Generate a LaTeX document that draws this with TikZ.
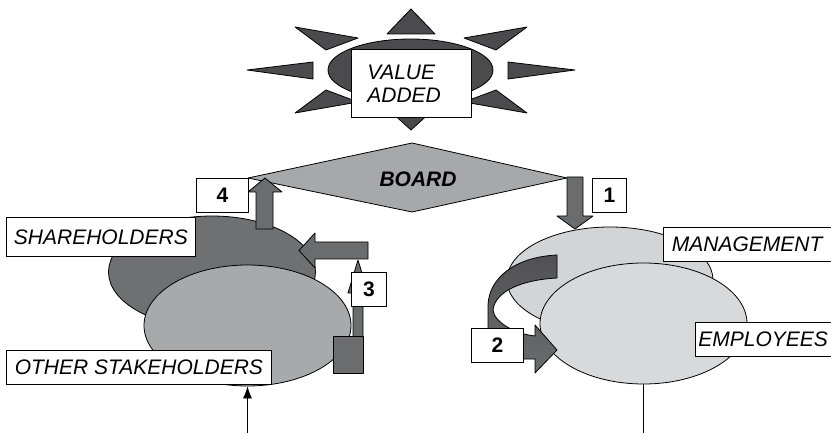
\documentclass[tikz,border=0pt]{standalone}
\usepackage{fontspec}
\setmainfont{Liberation Sans}
\usetikzlibrary{shapes.geometric,arrows.meta}
\definecolor{sungray}{HTML}{4B4B4D}
\definecolor{arrgray}{HTML}{6B6C6E}
\definecolor{arrdark}{HTML}{515153}
\definecolor{shgray}{HTML}{6F7072}
\definecolor{osgray}{HTML}{A8A9AB}
\definecolor{bdgray}{HTML}{A7A8AA}
\definecolor{mggray}{HTML}{D3D4D6}
\definecolor{emgray}{HTML}{D8D9DB}
\tikzset{
  outl/.style={draw=black, line width=0.8pt, line join=round},
  ray/.style={outl, fill=sungray},
  blockarrow/.style={outl, fill=arrgray},
  oval/.style={ellipse, outl, inner sep=0pt},
  lbl/.style={draw=black, fill=white, line width=0.8pt, inner sep=0pt,
    font=\fontsize{21}{23}\selectfont\itshape},
  numbox/.style={draw=black, fill=white, line width=0.8pt, inner sep=0pt,
    font=\fontsize{21}{23}\selectfont\bfseries, minimum height=34pt},
}
\begin{document}
\begin{tikzpicture}[x=1pt,y=-1pt]
\useasboundingbox (0,0) rectangle (831,433);

% ---- sun ----
\draw[ray] (387,34) -- (435,34) -- (411,9) -- cycle;
\draw[ray] (389,110) -- (433,110) -- (411,130) -- cycle;
\draw[ray] (313,62) -- (313,79) -- (247,70) -- cycle;
\draw[ray] (508,62) -- (508,79) -- (575,70) -- cycle;
\draw[ray] (295,27) -- (358,38) -- (326,50) -- cycle;
\draw[ray] (295,113) -- (358,102) -- (326,90) -- cycle;
\draw[ray] (527,27) -- (464,38) -- (496,50) -- cycle;
\draw[ray] (527,113) -- (464,102) -- (496,90) -- cycle;
\node[oval, fill=sungray, minimum width=165pt, minimum height=62pt] (sun) at (410.5,70) {};
\node[lbl, anchor=north west, minimum height=68pt, text width=88pt, inner xsep=16pt, align=left] (value) at (351,49) {VALUE\\ADDED};

% ---- board ----
\draw[outl, fill=bdgray] (248,178) -- (412,143) -- (567,178) -- (412,212) -- cycle;
\node[font=\fontsize{21}{23}\selectfont\bfseries\itshape] (board) at (418,179) {BOARD};

% ---- left group ----
\node[oval, fill=shgray, minimum width=207pt, minimum height=112pt] (share) at (212,272) {};
\draw[blockarrow] (368,242) -- (315,242) -- (315,233) -- (299,250.5) -- (315,268) -- (315,259) -- (368,259) -- cycle;
\node[oval, fill=osgray, minimum width=207pt, minimum height=121pt] (other) at (247.5,325.5) {};
\draw[blockarrow] (353,373) -- (353,293) -- (348,293) -- (358,260) -- (368,293) -- (363,293) -- (363,373) -- cycle;
\draw[blockarrow] (333,336) rectangle (363,373);
\node[numbox, anchor=north west, minimum width=35pt] (n3) at (351,272) {3};
\draw[blockarrow] (256,229) -- (256,192) -- (248,192) -- (265,178) -- (282,192) -- (273,192) -- (273,229) -- cycle;
\node[numbox, anchor=north west, minimum width=52pt] (n4) at (196,178) {4};
\node[lbl, anchor=north west, minimum width=189pt, minimum height=39pt] (shbox) at (6,217) {SHAREHOLDERS};
\node[lbl, anchor=north west, minimum width=265pt, minimum height=34pt] (osbox) at (6,350) {OTHER STAKEHOLDERS};
\coordinate (osin) at (247.5,433);
\draw[line width=0.8pt, -{Latex[length=12pt,width=9pt]}] (osin) -- (other.south);

% ---- right group ----
\node[oval, fill=mggray, minimum width=206pt, minimum height=106pt] (mgmt) at (610,280) {};
\node[oval, fill=emgray, minimum width=207pt, minimum height=121pt] (emp) at (643.5,323.5) {};
\draw[outl, top color=arrdark, bottom color=arrgray]
  (557,255) .. controls (515,257) and (489,278) .. (488,305)
  -- (488,340) .. controls (488,352) and (495,359) .. (510,359)
  -- (535,359) -- (535,373) -- (557,350) -- (535,325) -- (535,336)
  .. controls (515,334) and (494,322) .. (493,310)
  .. controls (495,292) and (520,280) .. (557,278) -- cycle;
\node[numbox, anchor=north west, minimum width=52pt] (n2) at (471,328) {2};
\draw[blockarrow] (567,177) -- (583,177) -- (583,216) -- (593,216) -- (575,229) -- (557,216) -- (567,216) -- cycle;
\node[numbox, anchor=north west, minimum width=34pt] (n1) at (592,178) {1};
\node[lbl, anchor=north west, minimum width=167.5pt, minimum height=34pt] (mgbox) at (663,227) {MANAGEMENT};
\node[lbl, anchor=north west, minimum height=34pt, text width=140pt, inner xsep=3pt, align=left] (embox) at (695,322) {EMPLOYEES};
\coordinate (emout) at (643.5,433);
\draw[line width=0.8pt] (emp.south) -- (emout);
\end{tikzpicture}
\end{document}
